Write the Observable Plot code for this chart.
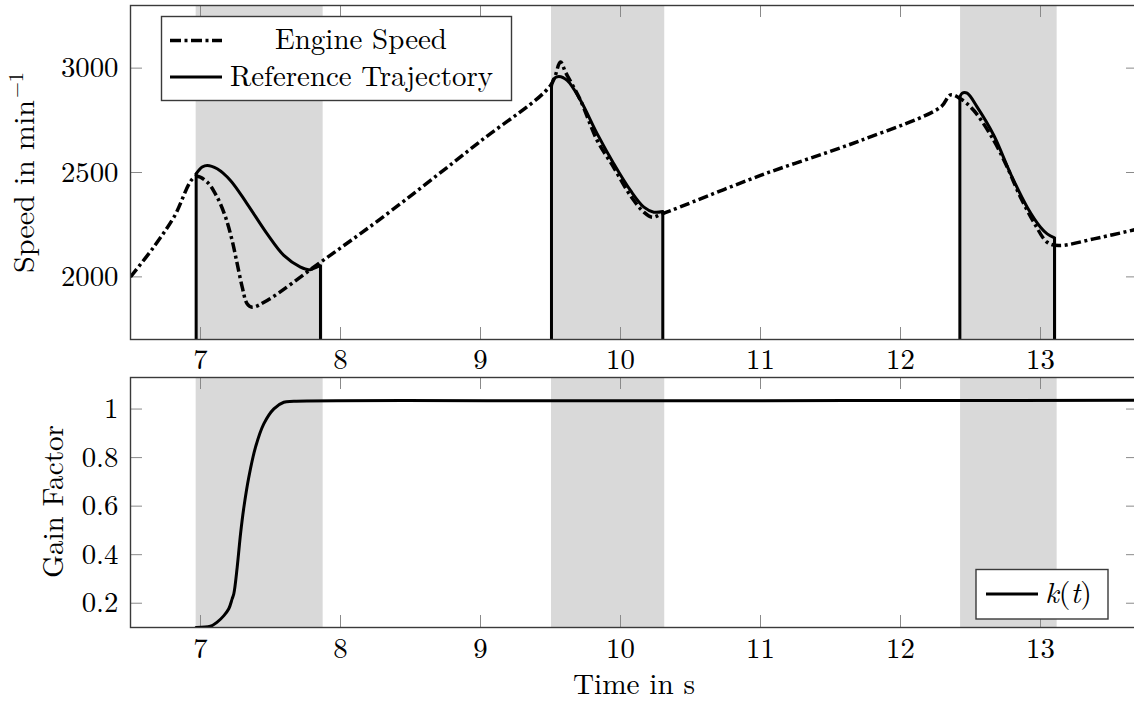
<!DOCTYPE html>
<html>
<head>
<meta charset="utf-8">
<script src="https://cdn.jsdelivr.net/npm/d3@7"></script>
<script src="https://cdn.jsdelivr.net/npm/@observablehq/plot@0.6"></script>
<style>
html, body { margin: 0; padding: 0; overflow: hidden; background: white; }
#wrap { position: relative; width: 1150px; height: 701px; font-family: 'Latin Modern Roman', 'Liberation Serif', serif; }
#wrap svg { position: absolute; left: 0; }
#wrap svg text { font-family: 'Latin Modern Roman', 'Liberation Serif', serif; }
</style>
</head>
<body>
<div id="wrap"></div>
<script>
// ---- data ----
const xTicks = [7, 8, 9, 10, 11, 12, 13];
const speedTicks = [2000, 2500, 3000];
const gainTicks = [0.2, 0.4, 0.6, 0.8, 1];

const bandStart = [6.969, 9.507, 12.429];
const bandEnd = [7.876, 10.316, 13.119];

const engineTime = [6.5, 6.667, 6.81, 6.964, 7.048, 7.119, 7.179, 7.226, 7.262, 7.298, 7.333, 7.369, 7.476, 7.857, 8.286, 9.0, 9.5, 9.571, 9.607, 9.714, 9.833, 9.95, 10.07, 10.167, 10.226, 10.298, 11.0, 11.714, 12.286, 12.357, 12.429, 12.524, 12.667, 12.762, 12.857, 12.952, 13.048, 13.131, 13.381, 13.7];
const engineSpeed = [2000, 2144, 2286, 2481, 2454, 2382, 2286, 2174, 2063, 1951, 1871, 1855, 1887, 2070, 2278, 2650, 2917, 3029, 2981, 2846, 2654, 2526, 2390, 2310, 2286, 2302, 2486, 2653, 2813, 2872, 2853, 2797, 2653, 2526, 2382, 2262, 2166, 2150, 2182, 2230];

// reference trajectory: defined only inside the shaded intervals (0 outside)
const ref1Time = [6.969, 7.012, 7.048, 7.119, 7.214, 7.333, 7.476, 7.595, 7.714, 7.774, 7.845, 7.857];
const ref1Speed = [2494, 2526, 2534, 2518, 2462, 2350, 2206, 2103, 2047, 2034, 2051, 2053];
const ref2Time = [9.507, 9.524, 9.56, 9.619, 9.714, 9.833, 9.952, 10.071, 10.167, 10.238, 10.302];
const ref2Speed = [2909, 2949, 2960, 2941, 2846, 2686, 2542, 2414, 2334, 2310, 2313];
const ref3Time = [12.424, 12.44, 12.476, 12.548, 12.667, 12.786, 12.905, 13.0, 13.048, 13.1];
const ref3Speed = [2861, 2880, 2880, 2813, 2677, 2494, 2334, 2238, 2206, 2187];
const refOutside = 0;

const gainTime = [6.969, 7.071, 7.119, 7.167, 7.202, 7.226, 7.238, 7.262, 7.286, 7.31, 7.345, 7.393, 7.452, 7.524, 7.595, 7.667, 10.0, 13.7];
const gainValue = [0.1, 0.105, 0.122, 0.149, 0.177, 0.218, 0.239, 0.348, 0.486, 0.596, 0.719, 0.843, 0.939, 1.001, 1.028, 1.032, 1.034, 1.036];

// ---- tables ----
const bands = bandStart.map((s, i) => ({start: s, end: bandEnd[i]}));
const engine = engineTime.map((t, i) => ({t, v: engineSpeed[i]}));
const refSegs = [[ref1Time, ref1Speed], [ref2Time, ref2Speed], [ref3Time, ref3Speed]];
const ref = refSegs.flatMap(([T, V], s) => T.map((t, i) => ({t, v: V[i], seg: s})));
const refJumps = refSegs.flatMap(([T, V]) => [
  {t: T[0], v: V[0]},
  {t: T[T.length - 1], v: V[V.length - 1]}
]);
const gain = gainTime.map((t, i) => ({t, v: gainValue[i]}));

const W = 1150, ML = 130, MR = 12;
const plotW = W - ML - MR;
const tickLen = 12;
const tickColor = "#8a8a8a";
const frameColor = "#3a3a3a";
const FONT = "'Latin Modern Roman', 'Liberation Serif', serif";
const font = {fontFamily: FONT, fontSize: "28.8px", background: "transparent", overflow: "visible"};

function ticksMarks(yTicks, plotH) {
  return [
    Plot.ruleX(xTicks, {stroke: tickColor, strokeWidth: 1, insetTop: plotH - tickLen}),
    Plot.ruleX(xTicks, {stroke: tickColor, strokeWidth: 1, insetBottom: plotH - tickLen}),
    Plot.ruleY(yTicks, {stroke: tickColor, strokeWidth: 1, insetRight: plotW - tickLen}),
    Plot.ruleY(yTicks, {stroke: tickColor, strokeWidth: 1, insetLeft: plotW - tickLen})
  ];
}

// ---- top panel ----
const topH = 370, topMT = 5, topMB = 31;
const topPlot = Plot.plot({
  width: W, height: topH,
  marginLeft: ML, marginRight: MR, marginTop: topMT, marginBottom: topMB,
  style: font,
  x: {domain: [6.5, 13.7]},
  y: {domain: [1700, 3300]},
  marks: [
    Plot.rect(bands, {x1: "start", x2: "end", fill: "#d9d9d9"}),
    ...ticksMarks(speedTicks, topH - topMT - topMB),
    Plot.ruleX(refJumps, {x: "t", y1: refOutside, y2: "v", stroke: "black", strokeWidth: 3, clip: true}),
    Plot.line(ref, {x: "t", y: "v", z: "seg", stroke: "black", strokeWidth: 3, curve: "catmull-rom", clip: true}),
    Plot.line(engine, {x: "t", y: "v", stroke: "black", strokeWidth: 3.5, strokeDasharray: "10,3.5,3,3.5", strokeLinecap: "butt", curve: "catmull-rom", clip: true}),
    Plot.axisX(xTicks, {tickSize: 0, tickPadding: 9, label: null, tickFormat: d => String(d)}),
    Plot.axisY(speedTicks, {tickSize: 0, tickPadding: 12, label: null, tickFormat: d => String(d)}),
    Plot.frame({stroke: frameColor, strokeWidth: 1.4})
  ]
});
topPlot.style.top = "0px";

// ---- bottom panel ----
const botTop = 370, botH = 331, botMT = 7, botMB = 74;
const botPlot = Plot.plot({
  width: W, height: botH,
  marginLeft: ML, marginRight: MR, marginTop: botMT, marginBottom: botMB,
  style: font,
  x: {domain: [6.5, 13.7]},
  y: {domain: [0.1, 1.13]},
  marks: [
    Plot.rect(bands, {x1: "start", x2: "end", fill: "#d9d9d9"}),
    ...ticksMarks(gainTicks, botH - botMT - botMB),
    Plot.line(gain, {x: "t", y: "v", stroke: "black", strokeWidth: 3, curve: "catmull-rom", clip: true}),
    Plot.axisX(xTicks, {tickSize: 0, tickPadding: 10, label: null, tickFormat: d => String(d)}),
    Plot.axisY(gainTicks, {tickSize: 0, tickPadding: 12, label: null, tickFormat: d => String(d)}),
    Plot.frame({stroke: frameColor, strokeWidth: 1.4})
  ]
});
botPlot.style.top = botTop + "px";

const wrap = document.getElementById("wrap");
wrap.appendChild(topPlot);
wrap.appendChild(botPlot);

// ---- overlay: legends and axis labels ----
const ns = "http://www.w3.org/2000/svg";
const ov = document.createElementNS(ns, "svg");
ov.setAttribute("width", W);
ov.setAttribute("height", 701);
ov.style.top = "0px";
ov.style.pointerEvents = "none";
ov.innerHTML = `
<g fill="black">
  <rect x="161.5" y="16.5" width="350" height="84" fill="white" stroke="${frameColor}" stroke-width="1.4"/>
  <line x1="170" x2="222" y1="40.5" y2="40.5" stroke="black" stroke-width="3.5" stroke-dasharray="11,3.5,3,3.5"/>
  <line x1="170" x2="222" y1="77" y2="77" stroke="black" stroke-width="3"/>
  <text x="275" y="49" font-size="28.8" textLength="172" lengthAdjust="spacingAndGlyphs">Engine Speed</text>
  <text x="230" y="85.5" font-size="28.8" textLength="263" lengthAdjust="spacingAndGlyphs">Reference Trajectory</text>

  <rect x="976" y="569.5" width="132" height="49.5" fill="white" stroke="${frameColor}" stroke-width="1.4"/>
  <line x1="986" x2="1038" y1="594" y2="594" stroke="black" stroke-width="3"/>
  <text x="1045" y="603" font-size="28.8" textLength="47" lengthAdjust="spacingAndGlyphs"><tspan font-style="italic">k</tspan>(<tspan font-style="italic">t</tspan>)</text>

  <g transform="translate(34,273) rotate(-90)">
    <text x="0" y="0" font-size="28.8" textLength="173" lengthAdjust="spacingAndGlyphs">Speed in min</text>
    <text x="175" y="-11" font-size="20" textLength="26" lengthAdjust="spacingAndGlyphs">−1</text>
  </g>
  <g transform="translate(63,578) rotate(-90)">
    <text x="0" y="0" font-size="28.8" textLength="153" lengthAdjust="spacingAndGlyphs">Gain Factor</text>
  </g>
  <text x="573" y="694" font-size="28.8" textLength="122" lengthAdjust="spacingAndGlyphs">Time in s</text>
</g>`;
wrap.appendChild(ov);
</script>
</body>
</html>
